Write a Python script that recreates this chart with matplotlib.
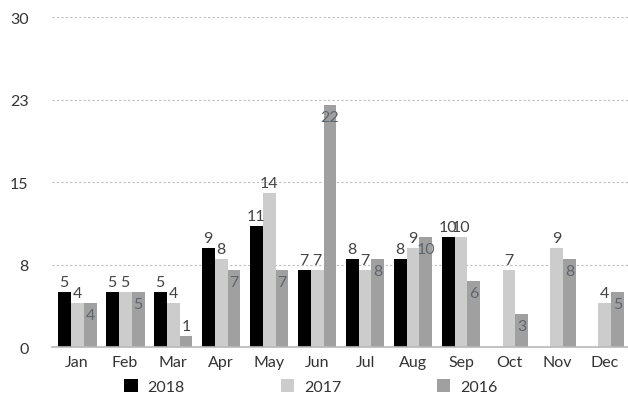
import matplotlib.pyplot as plt
import numpy as np

plt.rcParams['font.family'] = ['Lato', 'DejaVu Sans']

months = ['Jan', 'Feb', 'Mar', 'Apr', 'May', 'Jun', 'Jul', 'Aug', 'Sep', 'Oct', 'Nov', 'Dec']
v2018 = [5, 5, 5, 9, 11, 7, 8, 8, 10, None, None, None]
v2017 = [4, 5, 4, 8, 14, 7, 7, 9, 10, 7, 9, 4]
v2016 = [4, 5, 1, 7, 7, 22, 8, 10, 6, 3, 8, 5]
yticks = [0, 7.5, 15, 22.5, 30]
ytick_labels = ['0', '8', '15', '23', '30']

fig = plt.figure(figsize=(6.28, 4.02), dpi=100)
ax = fig.add_axes([0.083, 0.134, 0.917, 0.821])

x = np.arange(len(months))
w = 0.27
series = [('2018', v2018, '#000000', -w), ('2017', v2017, '#cbcdcb', 0), ('2016', v2016, '#a0a0a0', w)]

for name, vals, col, off in series:
    for i, v in enumerate(vals):
        if v is None:
            continue
        ax.bar(x[i] + off, v, w, color=col, zorder=3, label=name if i == 0 else None)
        if name == '2016' and v >= 3:
            ax.text(x[i] + off, v - 0.4, str(v), ha='center', va='top', fontsize=11.5, color='#5c6670', zorder=4)
        else:
            ax.text(x[i] + off, v + 0.3, str(v), ha='center', va='bottom', fontsize=11.5, color='#444444', zorder=4)

ax.set_xlim(-0.52, 11.48)
ax.set_ylim(0, 30)
ax.set_yticks(yticks)
ax.set_yticklabels(ytick_labels)
ax.set_xticks(x)
ax.set_xticklabels(months)
ax.grid(axis='y', linestyle=(0, (2, 2)), color='#bcbcbc', linewidth=0.8, zorder=0)
for s in ['top', 'right', 'left']:
    ax.spines[s].set_visible(False)
ax.spines['bottom'].set_color('#b8b8b8')
ax.spines['bottom'].set_linewidth(1.2)
ax.spines['bottom'].set_zorder(5)
ax.tick_params(axis='both', length=0, labelsize=11.5, labelcolor='#333333')
ax.tick_params(axis='y', pad=17)
ax.tick_params(axis='x', pad=6)

fig.legend(loc='center', bbox_to_anchor=(0.495, 0.035), ncol=3, frameon=False,
           fontsize=11.5, handlelength=0.85, handleheight=0.85, handletextpad=0.6,
           columnspacing=6.0, labelcolor='#333333')

fig.savefig('out.png', dpi=100)
